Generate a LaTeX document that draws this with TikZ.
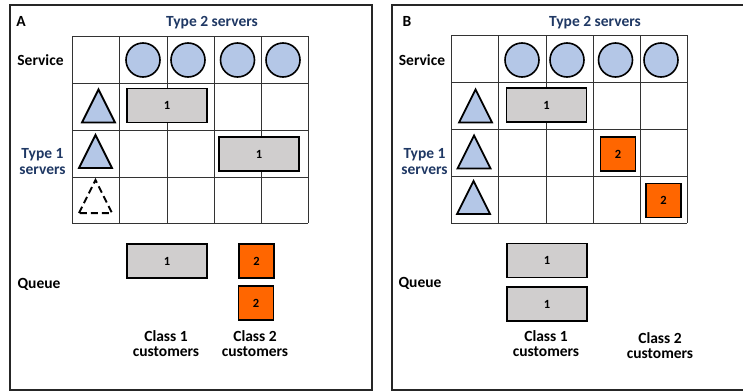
\documentclass[tikz,border=0pt]{standalone}
\usepackage{fontspec}
\setmainfont{Carlito}
\usetikzlibrary{calc}
\definecolor{srvblue}{HTML}{B4C7E7}
\definecolor{txtblue}{HTML}{1F3864}
\definecolor{cgray}{HTML}{D0CECE}
\definecolor{corange}{HTML}{FF6600}
\tikzset{
  frame/.style={draw=black!85, line width=1.3pt},
  gridl/.style={draw=black!80, line width=0.8pt},
  srvc/.style={circle, draw=black, line width=1.6pt, fill=srvblue, minimum width=32pt, minimum height=34pt, inner sep=0pt},
  tri/.style={draw=black, line width=1.8pt, fill=srvblue, line join=miter},
  trid/.style={draw=black, line width=2pt, fill=white, dash pattern=on 7pt off 4pt, line join=miter},
  c1box/.style={draw=black, line width=1.5pt, fill=cgray, minimum width=80pt, minimum height=34pt, inner sep=0pt, font=\bfseries\fontsize{12.5}{13}\selectfont},
  c2box/.style={draw=black, line width=1.5pt, fill=corange, minimum width=35pt, minimum height=34pt, inner sep=0pt, font=\bfseries\fontsize{12.5}{13}\selectfont},
  lbl/.style={font=\bfseries\fontsize{15.5}{17}\selectfont, align=center, inner sep=0pt},
  bluelbl/.style={lbl, text=txtblue},
  panel/.style={font=\bfseries\fontsize{15.5}{17}\selectfont, inner sep=0pt},
}
\newcommand{\mytri}[2]{\draw[#1] ($(#2)+(-16.5,16.5)$) -- ($(#2)+(0,-16.5)$) -- ($(#2)+(16.5,16.5)$) -- cycle;}
\begin{document}
\begin{tikzpicture}[x=1pt,y=-1pt]
\useasboundingbox (0,0) rectangle (743,391);
\clip (0,0) rectangle (743,391);
% ---------- Panel A ----------
\draw[frame] (10,5) rectangle (372,390);
\node[panel] (pA) at (21,21) {A};
\node[bluelbl] (t2A) at (212,23) {Type 2 servers};
\node[lbl] (svA) at (40.5,60) {Service};
\node[bluelbl] (t1A) at (42.5,162) {Type 1\\[-1pt]servers};
\foreach \x in {72,119,167,214,261,308} \draw[gridl] (\x,36) -- (\x,223);
\foreach \y in {36,83,130,177,223} \draw[gridl] (72,\y) -- (308,\y);
\node[srvc] (cA1) at (143,60) {};
\node[srvc] (cA2) at (188,60) {};
\node[srvc] (cA3) at (237.5,60) {};
\node[srvc] (cA4) at (283,60) {};
\coordinate (tA1) at (98.5,106);
\coordinate (tA2) at (95.5,151.5);
\coordinate (tA3) at (95.5,196.5);
\mytri{tri}{tA1}
\mytri{tri}{tA2}
\mytri{trid}{tA3}
\node[c1box] (bA1) at (167,105.5) {1};
\node[c1box] (bA2) at (259,154) {1};
\node[lbl] (qA) at (39,284) {Queue};
\node[c1box] (qA1) at (167,261) {1};
\node[c2box] (qA2) at (256.5,261) {2};
\node[c2box] (qA3) at (256,303) {2};
\node[lbl] (c1A) at (166,344) {Class 1\\[-2pt]customers};
\node[lbl] (c2A) at (255,344) {Class 2\\[-2pt]customers};
% ---------- Panel B ----------
\draw[frame] (392,5) rectangle (760,390);
\node[panel] (pB) at (407,21) {B};
\node[bluelbl] (t2B) at (595,23) {Type 2 servers};
\node[lbl] (svB) at (422,60) {Service};
\node[bluelbl] (t1B) at (424.5,162) {Type 1\\[-1pt]servers};
\foreach \x in {451,498,546,593,640,687} \draw[gridl] (\x,35) -- (\x,223);
\foreach \y in {35,82,129,176,223} \draw[gridl] (451,\y) -- (687,\y);
\node[srvc] (cB1) at (522,60) {};
\node[srvc] (cB2) at (567,60) {};
\node[srvc] (cB3) at (615.5,60) {};
\node[srvc] (cB4) at (661,60) {};
\coordinate (tB1) at (475.5,106);
\coordinate (tB2) at (474,152);
\coordinate (tB3) at (473.5,197.5);
\mytri{tri}{tB1}
\mytri{tri}{tB2}
\mytri{tri}{tB3}
\node[c1box] (bB1) at (546.5,105) {1};
\node[c2box] (bB2) at (618,154) {2};
\node[c2box] (bB3) at (663.5,200.5) {2};
\node[lbl] (qB) at (420,283) {Queue};
\node[c1box] (qB1) at (547,260.5) {1};
\node[c1box] (qB2) at (547,304) {1};
\node[lbl] (c1B) at (546,344) {Class 1\\[-2pt]customers};
\node[lbl] (c2B) at (660,346) {Class 2\\[-2pt]customers};
\end{tikzpicture}
\end{document}
